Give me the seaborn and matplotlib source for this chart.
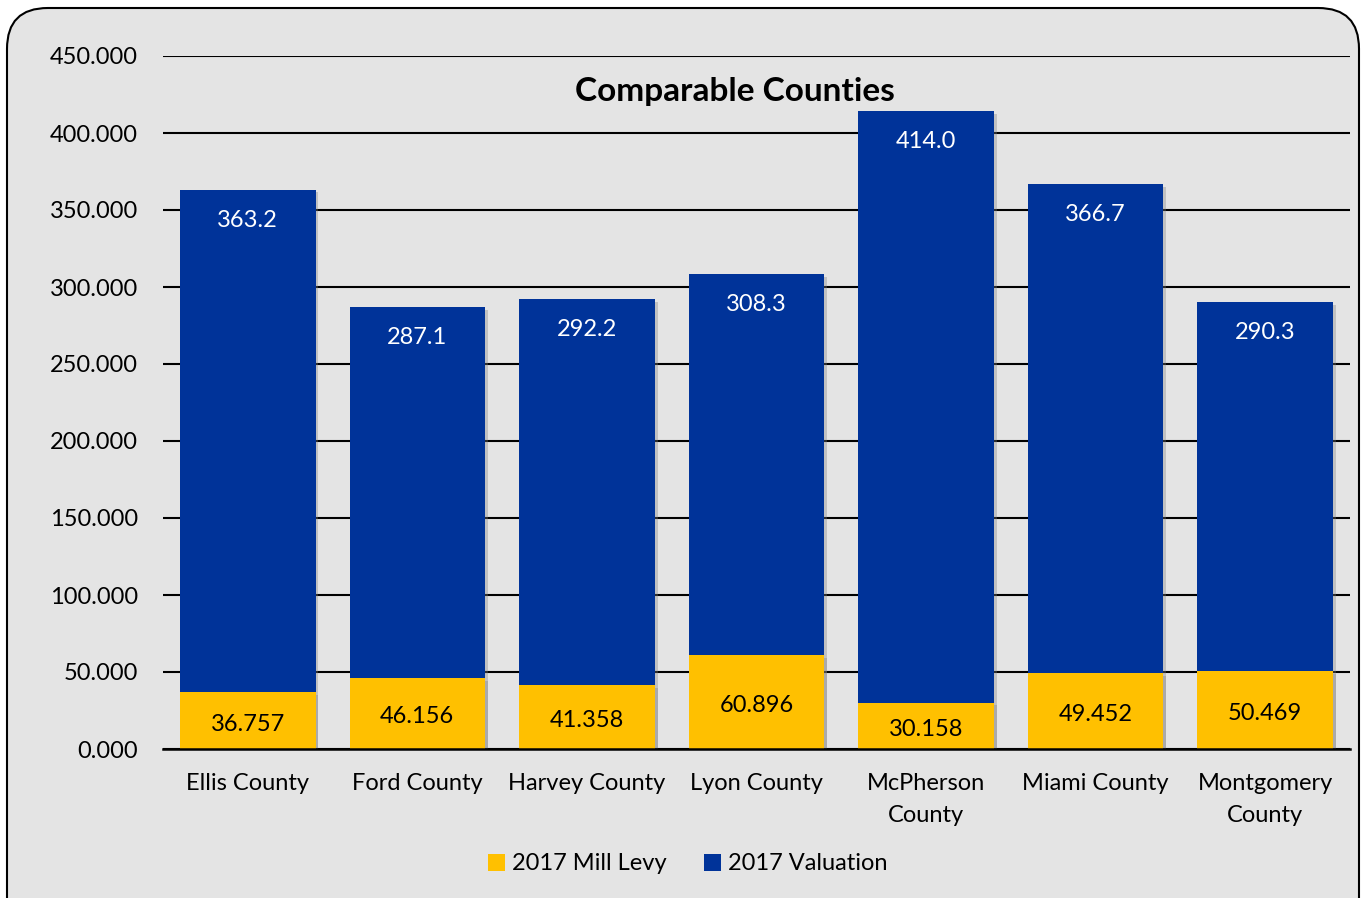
import matplotlib
matplotlib.use("Agg")
import matplotlib.pyplot as plt
import matplotlib.patheffects as pe
from matplotlib.patches import FancyBboxPatch, Patch
import seaborn as sns
import pandas as pd

# Values per county
counties = ["Ellis County", "Ford County", "Harvey County", "Lyon County",
            "McPherson County", "Miami County", "Montgomery County"]
tick_labels = ["Ellis County", "Ford County", "Harvey County", "Lyon County",
               "McPherson\nCounty", "Miami County", "Montgomery\nCounty"]
valuation_2017 = [363.2, 287.1, 292.2, 308.3, 414.0, 366.7, 290.3]
mill_levy_2017 = [36.757, 46.156, 41.358, 60.896, 30.158, 49.452, 50.469]
y_ticks = [0, 50, 100, 150, 200, 250, 300, 350, 400, 450]

BLUE = "#003399"
GOLD = "#FFC000"
PANEL = "#E4E4E4"
FS = 17

sns.set_theme(style="white")
plt.rcParams["font.family"] = ["Lato", "DejaVu Sans"]

df = pd.DataFrame({"county": counties,
                   "valuation": valuation_2017,
                   "levy": mill_levy_2017})

W, H = 1361, 898
fig = plt.figure(figsize=(W / 100, H / 100), dpi=100, facecolor="white")

# Rounded grey panel behind the chart
panel = FancyBboxPatch((7 / W, -0.05), (1352 / W), (1 - 8 / H) + 0.05,
                       boxstyle="round,pad=0,rounding_size=0.03",
                       transform=fig.transFigure, facecolor=PANEL,
                       edgecolor="black", linewidth=1.5, zorder=-5,
                       mutation_aspect=W / H)
fig.patches.append(panel)

ax = fig.add_axes([163 / W, 1 - 749 / H, (1350 - 163) / W, (749 - 56) / H])
ax.set_zorder(2)
ax.set_facecolor("none")

shadow = [pe.SimplePatchShadow(offset=(2, -2), shadow_rgbFace="#808080", alpha=0.35),
          pe.Normal()]

sns.barplot(data=df, x="county", y="valuation", color=BLUE, width=0.8,
            saturation=1, ax=ax, zorder=3)
n_blue = len(ax.patches)
sns.barplot(data=df, x="county", y="levy", color=GOLD, width=0.8,
            saturation=1, ax=ax, zorder=4)

for p in ax.patches:
    p.set_edgecolor("none")
    p.set_path_effects(shadow)

blue_bars = ax.patches[:n_blue]
gold_bars = ax.patches[n_blue:]

# Value labels: valuation near the top inside, levy centred
for p, v in zip(blue_bars, valuation_2017):
    ax.annotate(f"{v:.1f}", (p.get_x() + p.get_width() / 2, v),
                xytext=(0, -22), textcoords="offset points",
                ha="center", va="center", color="white", fontsize=FS, zorder=6)
for p, v in zip(gold_bars, mill_levy_2017):
    ax.annotate(f"{v:.3f}", (p.get_x() + p.get_width() / 2, v / 2),
                xytext=(0, -2.5), textcoords="offset points",
                ha="center", va="center", color="black", fontsize=FS, zorder=6)

ax.set_ylim(0, 450)
ax.set_xlim(-0.5, len(counties) - 0.5)
ax.set_yticks(y_ticks)
ax.set_yticklabels([f"{t:.3f}" for t in y_ticks])
ax.set_xticks(range(len(counties)))
ax.set_xticklabels(tick_labels, linespacing=1.65)
ax.yaxis.grid(True, color="black", linewidth=1.5, zorder=1)
ax.set_axisbelow(True)
ax.set_xlabel("")
ax.set_ylabel("")
for s in ["top", "right", "left"]:
    ax.spines[s].set_visible(False)
ax.spines["bottom"].set_color("black")
ax.spines["bottom"].set_linewidth(1.8)
ax.spines["bottom"].set_zorder(7)
ax.tick_params(axis="y", length=0, pad=18, labelsize=FS, labelcolor="black")
ax.tick_params(axis="x", length=0, pad=17, labelsize=FS, labelcolor="black")

fig.text(735 / W, 1 - 91 / H, "Comparable Counties", ha="center", va="center",
         fontsize=24, fontweight="bold", color="black")

handles = [Patch(facecolor=GOLD, edgecolor="none", label="2017 Mill Levy"),
           Patch(facecolor=BLUE, edgecolor="none", label="2017 Valuation")]
fig.legend(handles=handles, loc="center", bbox_to_anchor=(688 / W, 1 - 864 / H),
           ncol=2, frameon=False, fontsize=FS, handlelength=0.7, handleheight=0.7,
           handletextpad=0.3, columnspacing=1.6, labelcolor="black")

fig.savefig("out.png", dpi=100, facecolor="white")
